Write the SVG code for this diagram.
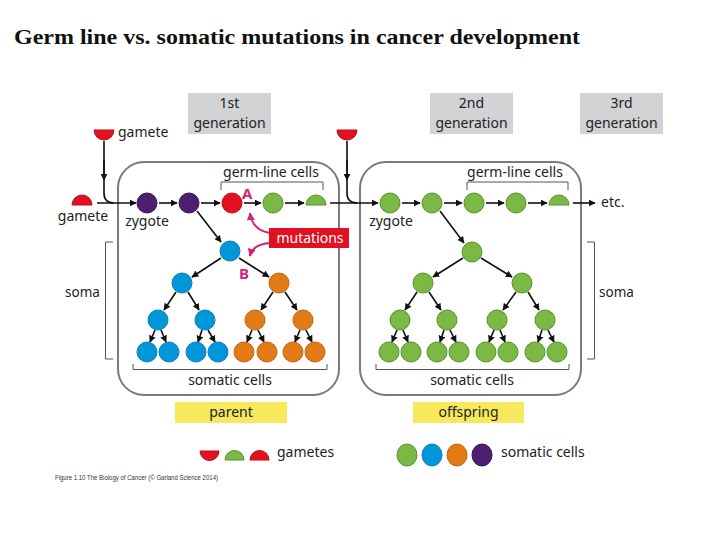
<svg xmlns="http://www.w3.org/2000/svg" width="720" height="540" viewBox="0 0 720 540">
<defs>
<marker id="ah" viewBox="0 0 10 10" refX="9" refY="5" markerWidth="7" markerHeight="7" markerUnits="userSpaceOnUse" orient="auto"><path d="M0,0 L10,5 L0,10 Z" fill="#111"/></marker>
<marker id="am" viewBox="0 0 10 10" refX="9" refY="5" markerWidth="8" markerHeight="8" markerUnits="userSpaceOnUse" orient="auto"><path d="M0,0 L10,5 L0,10 Z" fill="#d4237a"/></marker>
<style>
.t{font-family:"Noto Sans","Open Sans",sans-serif;font-size:14px;fill:#222}
.c{text-anchor:middle}
.box{fill:none;stroke:#7a7a7a;stroke-width:2}
.gen{fill:#d1d3d4}
.yl{fill:#f6ea5c}
.br{fill:none;stroke:#555;stroke-width:1}
.ar{fill:none;stroke:#111;stroke-width:1.6;marker-end:url(#ah)}
.ln{fill:none;stroke:#111;stroke-width:1.6}
.mg{fill:none;stroke:#d4237a;stroke-width:2;marker-end:url(#am)}
.g{fill:#7cb944;stroke:#56922c;stroke-width:1}
.b{fill:#0096da;stroke:#0b80bd;stroke-width:1}
.o{fill:#e27a16;stroke:#c3640c;stroke-width:1}
.p{fill:#4d1f71;stroke:#3b1258;stroke-width:1}
.r{fill:#e3101f;stroke:#c30a17;stroke-width:1}
.lbl{font-family:"Noto Sans","Open Sans",sans-serif;font-weight:bold;font-size:15px;fill:#d4237a}
</style>
</defs>
<rect width="720" height="540" fill="#fff"/>
<text x="14" y="44" textLength="566" lengthAdjust="spacingAndGlyphs" style="font-family:'Liberation Serif',serif;font-weight:bold;font-size:22px;fill:#111">Germ line vs. somatic mutations in cancer development</text>

<g id="gen1"><rect class="gen" x="188" y="93" width="83" height="41"/><text class="t c" x="229.5" y="108">1st</text><text class="t c" x="229.5" y="128">generation</text></g>
<g id="gen2"><rect class="gen" x="430" y="93" width="83" height="41"/><text class="t c" x="471.5" y="108">2nd</text><text class="t c" x="471.5" y="128">generation</text></g>
<g id="gen3"><rect class="gen" x="580" y="93" width="83" height="41"/><text class="t c" x="621.5" y="108">3rd</text><text class="t c" x="621.5" y="128">generation</text></g>

<g id="parentBox"><rect class="box" x="118" y="162" width="221" height="233" rx="26"/></g>
<g id="offspringBox"><rect class="box" x="360" y="162" width="221" height="233" rx="26"/></g>

<g id="connectors">
<path class="ln" d="M104,141 V193 Q104,203 114,203"/>
<path class="ar" d="M104,160 V180"/>
<path class="ar" d="M97,203 H136"/>
<path class="ln" d="M347,141 V193 Q347,203 357,203"/>
<path class="ar" d="M347,160 V180"/>
<path class="ar" d="M330,203 H378"/>
<path class="ar" d="M159,203 H177"/>
<path class="ar" d="M201,203 H220"/>
<path class="ar" d="M244,203 H261"/>
<path class="ar" d="M285,203 H304"/>
<path class="ar" d="M402,203 H420"/>
<path class="ar" d="M444,203 H462"/>
<path class="ar" d="M486,203 H504"/>
<path class="ar" d="M528,203 H547"/>
<path class="ar" d="M573,203 H595"/>
<path class="ar" d="M197,211 L221,242"/>
<path class="ar" d="M440,211 L464,243"/>
<path class="ar" d="M221,258 L192,277"/>
<path class="ar" d="M239,258 L269,277"/>
<path class="ar" d="M176,292 L164,310"/>
<path class="ar" d="M188,292 L199,310"/>
<path class="ar" d="M273,292 L261,310"/>
<path class="ar" d="M285,292 L297,310"/>
<path class="ar" d="M155,330 L150,342"/>
<path class="ar" d="M161,330 L166,342"/>
<path class="ar" d="M202,330 L198,342"/>
<path class="ar" d="M208,330 L215,342"/>
<path class="ar" d="M252,330 L247,342"/>
<path class="ar" d="M258,330 L264,342"/>
<path class="ar" d="M300,330 L295,342"/>
<path class="ar" d="M306,330 L312,342"/>
<path class="ar" d="M463,258 L433,277"/>
<path class="ar" d="M481,258 L512,277"/>
<path class="ar" d="M417,292 L405,310"/>
<path class="ar" d="M429,292 L441,310"/>
<path class="ar" d="M516,292 L503,310"/>
<path class="ar" d="M528,292 L539,310"/>
<path class="ar" d="M397,330 L392,342"/>
<path class="ar" d="M403,330 L408,342"/>
<path class="ar" d="M444,330 L440,342"/>
<path class="ar" d="M450,330 L456,342"/>
<path class="ar" d="M494,330 L489,342"/>
<path class="ar" d="M500,330 L505,342"/>
<path class="ar" d="M542,330 L538,342"/>
<path class="ar" d="M548,330 L554,342"/>
<path class="mg" d="M270,233 Q252,230 250,213"/>
<path class="mg" d="M270,243 Q253,244 250,256"/>
</g>

<g id="brackets">
<path class="br" d="M221,190 V182 H323 V190"/>
<path class="br" d="M467,190 V182 H568 V190"/>
<path class="br" d="M133,364 V369.5 H327 V364"/>
<path class="br" d="M376,364 V369.5 H569 V364"/>
<path class="br" d="M113,242 H105.5 V359 H113"/>
<path class="br" d="M587,242 H594.5 V359 H587"/>
</g>

<g id="gameteTop1"><path class="r" d="M94,130 A10,10 0 0 0 114,130 Z"/><text class="t" x="118" y="137">gamete</text></g>
<g id="gameteLeft"><path class="r" d="M72,205 A10,10 0 0 1 92,205 Z"/><text class="t c" x="83" y="221">gamete</text></g>
<g id="gameteTop2"><path class="r" d="M337,130 A10,10 0 0 0 357,130 Z"/></g>

<g id="zygote1"><circle class="p" cx="147" cy="203" r="10"/><text class="t c" x="147" y="226">zygote</text></g>
<g id="p_germ2"><circle class="p" cx="189" cy="203" r="10"/></g>
<g id="p_germ3"><circle class="r" cx="232" cy="203" r="10"/></g>
<g id="p_germ4"><circle class="g" cx="273" cy="203" r="10"/></g>
<g id="p_germ5"><path class="g" d="M306,205 A10,10 0 0 1 326,205 Z"/></g>
<g id="germLabel1"><text class="t c" x="271" y="177">germ-line cells</text></g>
<g id="labelA"><text class="lbl" x="242" y="199">A</text></g>
<g id="labelB"><text class="lbl" x="239" y="279">B</text></g>
<g id="mutations"><rect x="269" y="228" width="80" height="20" fill="#e3101f"/><text x="310" y="243" text-anchor="middle" style="font-family:'Noto Sans','Open Sans',sans-serif;font-size:14px;fill:#fff">mutations</text></g>

<g id="p_l1"><circle class="b" cx="230" cy="251" r="10"/></g>
<g id="p_l2a"><circle class="b" cx="182" cy="283" r="10"/></g>
<g id="p_l2b"><circle class="o" cx="279" cy="283" r="10"/></g>
<g id="p_l3a"><circle class="b" cx="158" cy="320" r="10"/></g>
<g id="p_l3b"><circle class="b" cx="205" cy="320" r="10"/></g>
<g id="p_l3c"><circle class="o" cx="255" cy="320" r="10"/></g>
<g id="p_l3d"><circle class="o" cx="303" cy="320" r="10"/></g>
<g id="p_l4">
<circle class="b" cx="147" cy="352" r="10"/><circle class="b" cx="169" cy="352" r="10"/>
<circle class="b" cx="196" cy="352" r="10"/><circle class="b" cx="218" cy="352" r="10"/>
<circle class="o" cx="244" cy="352" r="10"/><circle class="o" cx="267" cy="352" r="10"/>
<circle class="o" cx="293" cy="352" r="10"/><circle class="o" cx="315" cy="352" r="10"/>
</g>
<g id="somaticLabel1"><text class="t c" x="230" y="385">somatic cells</text></g>
<g id="somaLeft"><text class="t" x="65" y="297" style="font-size:13.5px">soma</text></g>

<g id="zygote2"><circle class="g" cx="390" cy="203" r="10"/><text class="t c" x="391" y="226">zygote</text></g>
<g id="o_germ2"><circle class="g" cx="432" cy="203" r="10"/></g>
<g id="o_germ3"><circle class="g" cx="474" cy="203" r="10"/></g>
<g id="o_germ4"><circle class="g" cx="516" cy="203" r="10"/></g>
<g id="o_germ5"><path class="g" d="M549,205 A10,10 0 0 1 569,205 Z"/></g>
<g id="germLabel2"><text class="t c" x="515" y="177">germ-line cells</text></g>
<g id="etc"><text class="t" x="601" y="207">etc.</text></g>

<g id="o_l1"><circle class="g" cx="472" cy="252" r="10"/></g>
<g id="o_l2a"><circle class="g" cx="423" cy="283" r="10"/></g>
<g id="o_l2b"><circle class="g" cx="522" cy="283" r="10"/></g>
<g id="o_l3a"><circle class="g" cx="400" cy="320" r="10"/></g>
<g id="o_l3b"><circle class="g" cx="447" cy="320" r="10"/></g>
<g id="o_l3c"><circle class="g" cx="497" cy="320" r="10"/></g>
<g id="o_l3d"><circle class="g" cx="545" cy="320" r="10"/></g>
<g id="o_l4">
<circle class="g" cx="389" cy="352" r="10"/><circle class="g" cx="411" cy="352" r="10"/>
<circle class="g" cx="437" cy="352" r="10"/><circle class="g" cx="459" cy="352" r="10"/>
<circle class="g" cx="486" cy="352" r="10"/><circle class="g" cx="508" cy="352" r="10"/>
<circle class="g" cx="535" cy="352" r="10"/><circle class="g" cx="557" cy="352" r="10"/>
</g>
<g id="somaticLabel2"><text class="t c" x="472" y="385">somatic cells</text></g>
<g id="somaRight"><text class="t" x="599" y="297" style="font-size:13.5px">soma</text></g>

<g id="parentLabel"><rect class="yl" x="175" y="402" width="112" height="21"/><text class="t c" x="231" y="417">parent</text></g>
<g id="offspringLabel"><rect class="yl" x="413" y="402" width="111" height="21"/><text class="t c" x="468.5" y="417">offspring</text></g>

<g id="legendGametes">
<path class="r" d="M200,451 A9.5,9.5 0 0 0 219,451 Z"/>
<path class="g" d="M225,460 A9.5,9.5 0 0 1 244,460 Z"/>
<path class="r" d="M250,460 A9.5,9.5 0 0 1 269,460 Z"/>
<text class="t" x="277" y="457">gametes</text>
</g>
<g id="legendSomatic">
<ellipse class="g" cx="407" cy="455" rx="10" ry="11"/>
<ellipse class="b" cx="432" cy="455" rx="10" ry="11"/>
<ellipse class="o" cx="457" cy="455" rx="10" ry="11"/>
<ellipse class="p" cx="482" cy="455" rx="10" ry="11"/>
<text class="t" x="501" y="457">somatic cells</text>
</g>
<text x="55" y="480" textLength="163" lengthAdjust="spacingAndGlyphs" style="font-family:'Liberation Sans',sans-serif;font-size:6.5px;fill:#333">Figure 1.10 The Biology of Cancer (© Garland Science 2014)</text>
</svg>
